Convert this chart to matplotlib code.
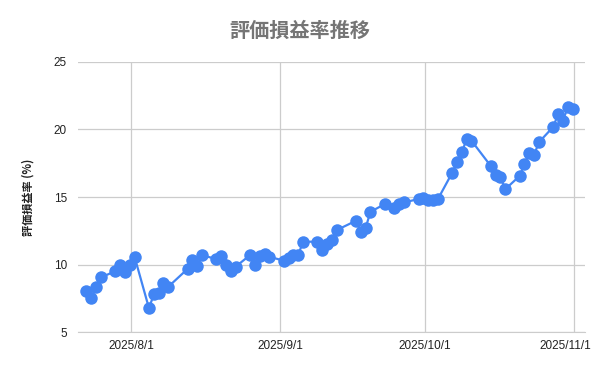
import numpy as np
import pandas as pd
import matplotlib
matplotlib.use("Agg")
import matplotlib.pyplot as plt
import matplotlib.dates as mdates
import matplotlib.transforms as mtransforms

plt.rcParams['font.family'] = ['Noto Sans CJK JP', 'DejaVu Sans']

# 営業日ごとの評価損益率 (%)  (記録時刻は夕方)
dates = [
    "2025-07-22", "2025-07-23", "2025-07-24", "2025-07-25",
    "2025-07-28", "2025-07-29", "2025-07-30", "2025-07-31", "2025-08-01",
    "2025-08-04", "2025-08-05", "2025-08-06", "2025-08-07", "2025-08-08",
    "2025-08-12", "2025-08-13", "2025-08-14", "2025-08-15",
    "2025-08-18", "2025-08-19", "2025-08-20", "2025-08-21", "2025-08-22",
    "2025-08-25", "2025-08-26", "2025-08-27", "2025-08-28", "2025-08-29",
    "2025-09-01", "2025-09-02", "2025-09-03", "2025-09-04", "2025-09-05",
    "2025-09-08", "2025-09-09", "2025-09-10", "2025-09-11", "2025-09-12",
    "2025-09-16", "2025-09-17", "2025-09-18", "2025-09-19",
    "2025-09-22", "2025-09-24", "2025-09-25", "2025-09-26",
    "2025-09-29", "2025-09-30", "2025-10-01", "2025-10-02", "2025-10-03",
    "2025-10-06", "2025-10-07", "2025-10-08", "2025-10-09", "2025-10-10",
    "2025-10-14", "2025-10-15", "2025-10-16", "2025-10-17",
    "2025-10-20", "2025-10-21", "2025-10-22", "2025-10-23", "2025-10-24",
    "2025-10-27", "2025-10-28", "2025-10-29", "2025-10-30", "2025-10-31",
]
rates = [
    8.06, 7.5, 8.36, 9.05,
    9.5, 9.96, 9.44, 9.96, 10.58,
    6.76, 7.8, 7.9, 8.65, 8.35,
    9.67, 10.33, 9.9, 10.7,
    10.4, 10.6, 9.96, 9.5, 9.84,
    10.7, 10.0, 10.65, 10.8, 10.58,
    10.28, 10.48, 10.7, 10.7, 11.69,
    11.69, 11.07, 11.5, 11.8, 12.55,
    13.24, 12.43, 12.7, 13.9,
    14.48, 14.2, 14.5, 14.6,
    14.85, 14.9, 14.78, 14.75, 14.83,
    16.8, 17.6, 18.3, 19.3, 19.17,
    17.3, 16.6, 16.5, 15.57,
    16.56, 17.44, 18.28, 18.1, 19.05,
    20.2, 21.15, 20.65, 21.64, 21.5,
]
x = pd.to_datetime(dates) + pd.Timedelta(hours=18)

fig = plt.figure(figsize=(6, 3.71), dpi=100)
ax = fig.add_axes([0.13, 0.105, 0.845, 0.728])

ax.plot(x, rates, color='#4285F4', linewidth=1.6, marker='o',
        markersize=9, markeredgewidth=0, zorder=3)

ax.set_ylim(5, 25)
ax.set_yticks([5, 10, 15, 20, 25])
ax.set_xlim(pd.Timestamp("2025-07-21"), pd.Timestamp("2025-11-03 08:00"))
ax.xaxis.set_major_locator(mdates.MonthLocator(bymonthday=1))
ax.xaxis.set_major_formatter(mdates.DateFormatter('%Y/%-m/%-d'))

ax.grid(True, color='#cccccc', linewidth=0.9)
ax.set_axisbelow(True)
for s in ['top', 'right', 'left']:
    ax.spines[s].set_visible(False)
ax.spines['bottom'].set_color('#cccccc')
ax.tick_params(length=0, labelsize=8.5, labelcolor='#222222')
ax.tick_params(axis='y', pad=8)
ax.tick_params(axis='x', pad=6)
for lbl in ax.get_xticklabels() + ax.get_yticklabels():
    lbl.set_family(['Liberation Sans', 'DejaVu Sans'])

# 最後の日付ラベルは右端に収まるよう少し左へ
fig.canvas.draw()
last = ax.get_xticklabels()[-1]
last.set_transform(last.get_transform() +
                   mtransforms.ScaledTranslation(-8 / 100, 0, fig.dpi_scale_trans))

ax.set_ylabel('評価損益率 (%)', fontsize=8, fontweight='bold', color='#222222', labelpad=14)
fig.suptitle('評価損益率推移', x=0.5, y=0.945, fontsize=14.5, fontweight='bold', color='#757575')

fig.savefig('out.png', dpi=100)
